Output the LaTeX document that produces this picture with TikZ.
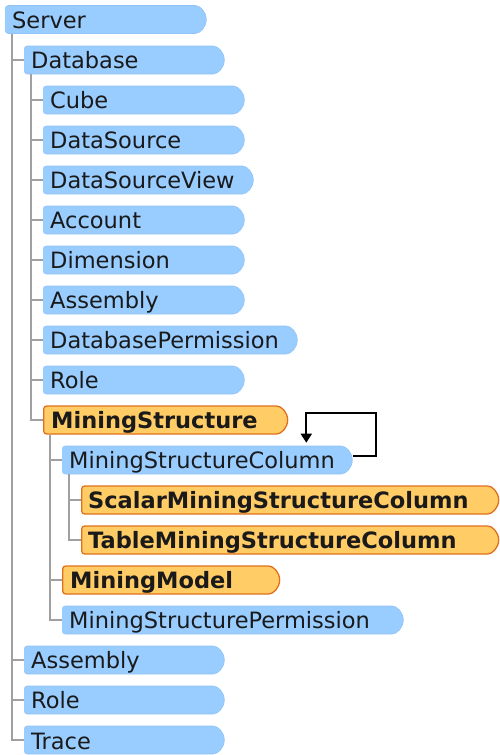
\documentclass[tikz,border=0pt]{standalone}
\usepackage{fontspec}
\setmainfont{DejaVu Sans}
\usetikzlibrary{shapes.misc,arrows.meta}
\definecolor{bluefill}{HTML}{99CCFF}
\definecolor{blueedge}{HTML}{8EC4FA}
\definecolor{orfill}{HTML}{FFCC66}
\definecolor{oredge}{HTML}{E0701E}
\definecolor{treegray}{HTML}{A0A0A0}
\definecolor{txt}{HTML}{1A1A1A}
\tikzset{
  itembox/.style={rounded rectangle, rounded rectangle left arc=none,
    rounded corners=3pt, minimum height=28pt, inner sep=0pt, anchor=west},
  bluebox/.style={itembox, fill=bluefill, draw=blueedge, line width=0.6pt},
  orbox/.style={itembox, fill=orfill, draw=oredge, line width=1.3pt},
  itemtext/.style={anchor=base west, inner sep=0pt, text=txt,
    font=\fontsize{22.5}{27}\selectfont},
  boldtext/.style={itemtext, font=\fontsize{22.5}{27}\selectfont\bfseries},
  tree/.style={draw=treegray, line width=2pt},
  selfloop/.style={draw=black, line width=2pt, -{Triangle[width=11pt,length=9pt]}}
}
\begin{document}
\begin{tikzpicture}[x=1pt,y=-1pt]
\useasboundingbox (0,0) rectangle (499,755);
% boxes
\node[bluebox, minimum width=201pt] (server) at (5,19.5) {};
\node[bluebox, minimum width=200pt] (database) at (24,60) {};
\node[bluebox, minimum width=201pt] (cube) at (43,100) {};
\node[bluebox, minimum width=201pt] (datasource) at (43,140) {};
\node[bluebox, minimum width=210pt] (dsv) at (43,180) {};
\node[bluebox, minimum width=201pt] (account) at (43,220) {};
\node[bluebox, minimum width=201pt] (dimension) at (43,260) {};
\node[bluebox, minimum width=201pt] (assembly1) at (43,300) {};
\node[bluebox, minimum width=254pt] (dbperm) at (43,340) {};
\node[bluebox, minimum width=201pt] (role1) at (43,380) {};
\node[orbox, minimum width=244pt] (ms) at (43,420) {};
\node[bluebox, minimum width=290pt] (msc) at (62,460) {};
\node[orbox, minimum width=417pt] (smsc) at (81,500) {};
\node[orbox, minimum width=417pt] (tmsc) at (81,540) {};
\node[orbox, minimum width=217pt] (mm) at (62,580) {};
\node[bluebox, minimum width=341pt] (msp) at (62,620) {};
\node[bluebox, minimum width=200pt] (assembly0) at (24,660) {};
\node[bluebox, minimum width=200pt] (role0) at (24,700) {};
\node[bluebox, minimum width=200pt] (trace) at (24,740) {};
% texts
\node[itemtext] (lserver) at (12,28.5) {Server};
\node[itemtext] (ldatabase) at (31,68.5) {Database};
\node[itemtext] (lcube) at (50,108.5) {Cube};
\node[itemtext] (ldatasource) at (50,148.5) {DataSource};
\node[itemtext] (ldsv) at (50,188.5) {DataSourceView};
\node[itemtext] (laccount) at (50,228.5) {Account};
\node[itemtext] (ldimension) at (50,268.5) {Dimension};
\node[itemtext] (lassembly1) at (50,308.5) {Assembly};
\node[itemtext] (ldbperm) at (50,348.5) {DatabasePermission};
\node[itemtext] (lrole1) at (50,388.5) {Role};
\node[boldtext] (lms) at (51,428.5) {MiningStructure};
\node[itemtext] (lmsc) at (69,468.5) {MiningStructureColumn};
\node[boldtext] (lsmsc) at (88,508.5) {ScalarMiningStructureColumn};
\node[boldtext] (ltmsc) at (88,548.5) {TableMiningStructureColumn};
\node[boldtext] (lmm) at (70,588.5) {MiningModel};
\node[itemtext] (lmsp) at (69,628.5) {MiningStructurePermission};
\node[itemtext] (lassembly0) at (31,668.5) {Assembly};
\node[itemtext] (lrole0) at (31,708.5) {Role};
\node[itemtext] (ltrace) at (31,749) {Trace};
% tree connectors
\foreach \c in {database,assembly0,role0,trace}
  \draw[tree] ([xshift=7pt]server.south west) |- (\c.west);
\foreach \c in {cube,datasource,dsv,account,dimension,assembly1,dbperm,role1,ms}
  \draw[tree] ([xshift=7pt]database.south west) |- (\c.west);
\foreach \c in {msc,mm,msp}
  \draw[tree] ([xshift=7pt]ms.south west) |- (\c.west);
\foreach \c in {smsc,tmsc}
  \draw[tree] ([xshift=7pt]msc.south west) |- (\c.west);
% self loop
\draw[selfloop] ([yshift=4pt]msc.east) -- ++(23,0) -- ++(0,-43) -| ([xshift=99pt,yshift=3pt]msc.north);
\end{tikzpicture}
\end{document}
